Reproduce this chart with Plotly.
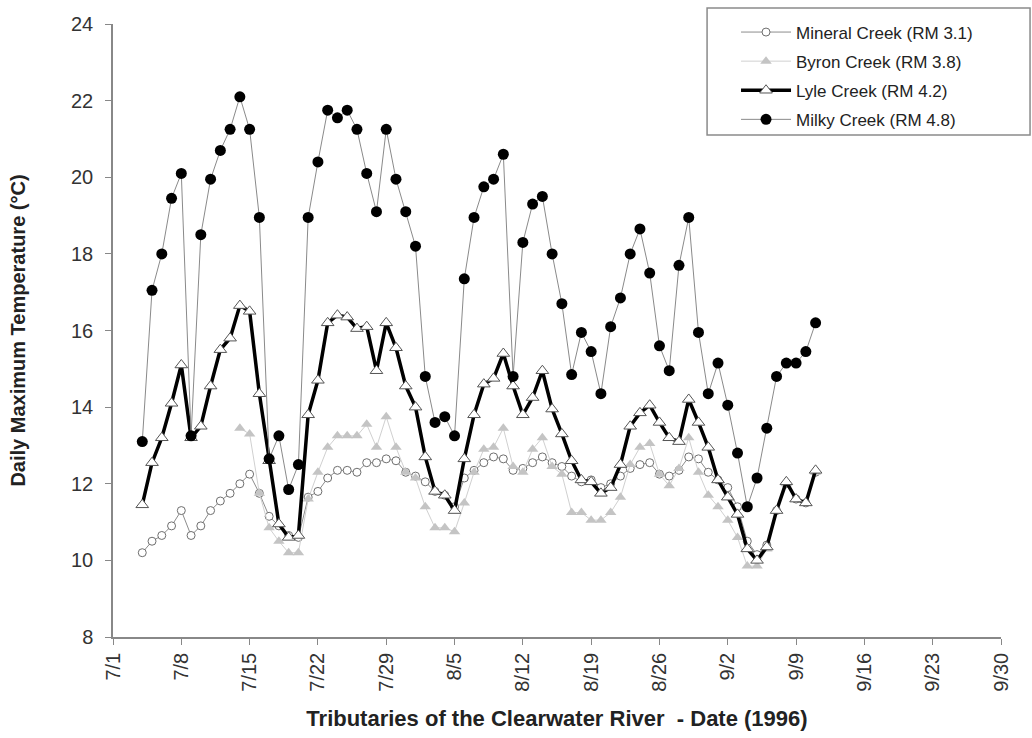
import pandas as pd
import plotly.graph_objects as go

dates = pd.date_range("1996-07-04", "1996-09-11", freq="D")

mineral = [10.2, 10.5, 10.65, 10.9, 11.3, 10.65, 10.9, 11.3, 11.55, 11.75, 12.0, 12.25, 11.75, 11.15, 10.9, 10.65, 10.6,
           11.65, 11.8, 12.15, 12.35, 12.35, 12.3, 12.55, 12.55, 12.65, 12.6, 12.3,
           12.2, 12.05, 11.8, 11.7, 11.4, 12.15, 12.35, 12.55, 12.7, 12.65, 12.35, 12.4, 12.55, 12.7, 12.55, 12.45,
           12.2, 12.05, 12.1, 11.9, 12.0, 12.2, 12.4, 12.5, 12.55, 12.25, 12.2, 12.35, 12.7, 12.65, 12.3,
           12.1, 11.9, 11.4, 10.5, 10.15, 10.4, 11.3, 12.0, 11.6, 11.5, 12.3]

byron = [None] * 10 + [13.45, 13.3, 11.75, 10.85, 10.5, 10.2, 10.2,
         11.6, 12.3, 12.95, 13.25, 13.25, 13.25, 13.55, 12.95, 13.75, 12.95, 12.3,
         12.15, 11.4, 10.85, 10.85, 10.75, 11.5, 12.3, 12.9, 12.95, 13.45, 12.45, 12.3, 12.9, 13.2, 12.45, 12.25,
         11.25, 11.25, 11.05, 11.05, 11.25, 11.65, 12.5, 12.95, 13.05, 12.25, 11.95, 12.4, 13.2, 12.3, 11.7,
         11.4, 11.05, 10.6, 9.85, 9.85, 10.3, 11.3, 12.0, 11.6, 11.5, 12.3]

lyle = [11.45, 12.55, 13.2, 14.1, 15.1, 13.2, 13.5, 14.55, 15.5, 15.8, 16.65, 16.5, 14.35, 12.6, 10.95, 10.6, 10.65,
        13.8, 14.7, 16.2, 16.4, 16.35, 16.05, 16.1, 14.95, 16.2, 15.55, 14.55,
        14.0, 12.7, 11.8, 11.7, 11.3, 12.65, 13.8, 14.6, 14.75, 15.4, 14.55, 13.8, 14.25, 14.95, 13.95, 13.3,
        12.6, 12.1, 12.05, 11.75, 11.9, 12.5, 13.5, 13.85, 14.05, 13.6, 13.2, 13.1, 14.2, 13.6, 12.95,
        12.1, 11.65, 11.2, 10.3, 10.0, 10.35, 11.3, 12.05, 11.6, 11.5, 12.35]

milky = [13.1, 17.05, 18.0, 19.45, 20.1, 13.25, 18.5, 19.95, 20.7, 21.25, 22.1, 21.25, 18.95, 12.65, 13.25, 11.85, 12.5,
         18.95, 20.4, 21.75, 21.55, 21.75, 21.25, 20.1, 19.1, 21.25, 19.95, 19.1,
         18.2, 14.8, 13.6, 13.75, 13.25, 17.35, 18.95, 19.75, 19.95, 20.6, 14.8, 18.3, 19.3, 19.5, 18.0, 16.7,
         14.85, 15.95, 15.45, 14.35, 16.1, 16.85, 18.0, 18.65, 17.5, 15.6, 14.95, 17.7, 18.95, 15.95, 14.35,
         15.15, 14.05, 12.8, 11.4, 12.15, 13.45, 14.8, 15.15, 15.15, 15.45, 16.2]

tick_dates = pd.date_range("1996-07-01", "1996-09-30", freq="7D")
tick_labels = ["7/1", "7/8", "7/15", "7/22", "7/29", "8/5", "8/12", "8/19", "8/26", "9/2", "9/9", "9/16", "9/23", "9/30"]

names = ["Mineral Creek (RM 3.1)", "Byron Creek (RM 3.8)", "Lyle Creek (RM 4.2)", "Milky Creek (RM 4.8)"]

FONT = "Liberation Sans, Arial, sans-serif"

fig = go.Figure()
fig.add_trace(go.Scatter(
    x=dates, y=mineral, name=names[0], mode="lines+markers", legendgroup="a",
    line=dict(color="#8c8c8c", width=1),
    marker=dict(symbol="circle", size=8, color="white", line=dict(color="#6e6e6e", width=1))))
fig.add_trace(go.Scatter(
    x=dates, y=byron, name=names[1], mode="lines+markers", legendgroup="b",
    line=dict(color="#d0d0d0", width=1),
    marker=dict(symbol="triangle-up", size=10, color="#c4c4c4", line=dict(color="#c4c4c4", width=0))))
fig.add_trace(go.Scatter(
    x=dates, y=lyle, name=names[2], mode="lines+markers", legendgroup="c",
    line=dict(color="black", width=3.5),
    marker=dict(symbol="triangle-up", size=11, color="white", line=dict(color="#555555", width=1))))
fig.add_trace(go.Scatter(
    x=dates, y=milky, name=names[3], mode="lines+markers", legendgroup="d",
    line=dict(color="#8a8a8a", width=1),
    marker=dict(symbol="circle", size=11, color="black", line=dict(color="black", width=0))))

fig.update_layout(
    width=1032, height=738,
    margin=dict(l=113, r=31, t=24, b=101),
    paper_bgcolor="white", plot_bgcolor="white",
    font=dict(family=FONT, color="#222222"),
    showlegend=True,
    legend=dict(
        x=0.7016, y=1.0155, xanchor="left", yanchor="top",
        bgcolor="rgba(0,0,0,0)", borderwidth=0,
        font=dict(size=17, color="#222222"),
        tracegroupgap=4, itemwidth=50,
    ),
    shapes=[dict(type="rect", xref="paper", yref="paper",
                 x0=0.669, x1=1.0327, y0=0.819, y1=1.026,
                 line=dict(color="#8a8a8a", width=1.5), fillcolor="rgba(0,0,0,0)", layer="above")],
    xaxis=dict(
        type="date", range=["1996-07-01", "1996-09-30"],
        tickvals=tick_dates, ticktext=tick_labels, tickangle=-90,
        ticks="outside", ticklen=6, tickcolor="#888888",
        showline=True, linecolor="#888888", linewidth=1.5,
        showgrid=False, zeroline=False,
        tickfont=dict(family=FONT, size=20, color="#333333"),
        title=dict(text="Tributaries of the Clearwater River  - Date (1996)",
                   font=dict(family=FONT, size=22, color="#222222", weight="bold"),
                   standoff=20),
    ),
    yaxis=dict(
        range=[8, 24], dtick=2,
        ticks="outside", ticklen=6, tickcolor="#888888",
        showline=True, linecolor="#888888", linewidth=1.5,
        showgrid=False, zeroline=False, ticklabelstandoff=8,
        tickfont=dict(family=FONT, size=20, color="#333333"),
        title=dict(text="Daily Maximum Temperature (°C)",
                   font=dict(family=FONT, size=20, color="#222222", weight="bold"),
                   standoff=40),
    ),
)

fig.write_html("out.html")
